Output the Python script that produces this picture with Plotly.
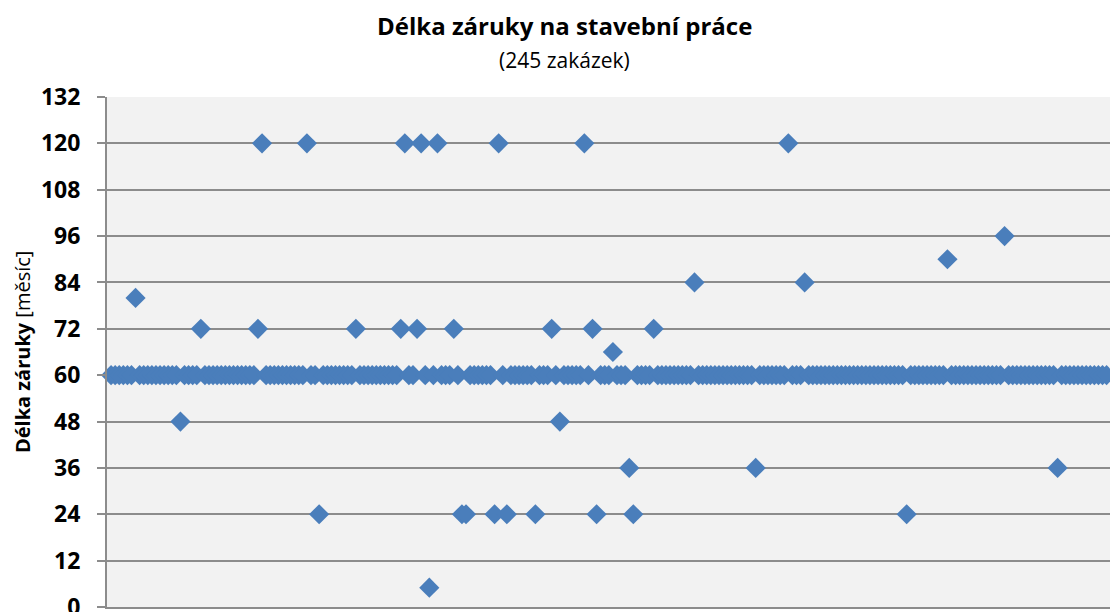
import plotly.graph_objects as go

# warranty length in months for each of the 245 contracts (in order)
zakazky = list(range(1, 246))
zaruka_mesice = [
    60, 60, 60, 60, 60, 60, 80, 60, 60, 60,
    60, 60, 60, 60, 60, 60, 60, 48, 60, 60,
    60, 60, 72, 60, 60, 60, 60, 60, 60, 60,
    60, 60, 60, 60, 60, 60, 72, 120, 60, 60,
    60, 60, 60, 60, 60, 60, 60, 60, 120, 60,
    60, 24, 60, 60, 60, 60, 60, 60, 60, 60,
    72, 60, 60, 60, 60, 60, 60, 60, 60, 60,
    60, 72, 120, 60, 60, 72, 120, 60, 5, 60,
    120, 60, 60, 60, 72, 60, 24, 24, 60, 60,
    60, 60, 60, 60, 24, 120, 60, 24, 60, 60,
    60, 60, 60, 60, 24, 60, 60, 60, 72, 60,
    48, 60, 60, 60, 60, 60, 120, 60, 72, 24,
    60, 60, 60, 66, 60, 60, 60, 36, 24, 60,
    60, 60, 60, 72, 60, 60, 60, 60, 60, 60,
    60, 60, 60, 84, 60, 60, 60, 60, 60, 60,
    60, 60, 60, 60, 60, 60, 60, 60, 36, 60,
    60, 60, 60, 60, 60, 60, 120, 60, 60, 60,
    84, 60, 60, 60, 60, 60, 60, 60, 60, 60,
    60, 60, 60, 60, 60, 60, 60, 60, 60, 60,
    60, 60, 60, 60, 60, 24, 60, 60, 60, 60,
    60, 60, 60, 60, 60, 90, 60, 60, 60, 60,
    60, 60, 60, 60, 60, 60, 60, 60, 60, 96,
    60, 60, 60, 60, 60, 60, 60, 60, 60, 60,
    60, 60, 36, 60, 60, 60, 60, 60, 60, 60,
    60, 60, 60, 60, 60,
]
y_ticks = [0, 12, 24, 36, 48, 60, 72, 84, 96, 108, 120, 132]

FONT = "Open Sans"
GRID = "#8c8c8c"

fig = go.Figure()
fig.add_trace(go.Scatter(
    x=zakazky,
    y=zaruka_mesice,
    mode="markers",
    marker=dict(symbol="diamond", size=15.5, color="#4a7ebb",
                line=dict(width=0)),
    cliponaxis=False,
    showlegend=False,
))

fig.update_xaxes(
    range=[0, 247.8],
    showgrid=False,
    zeroline=False,
    showticklabels=False,
    showline=True,
    linecolor=GRID,
    linewidth=2,
    automargin=False,
)
fig.update_yaxes(
    range=[0, 132],
    tickvals=y_ticks,
    showgrid=True,
    gridcolor=GRID,
    gridwidth=2,
    zeroline=False,
    showline=True,
    linecolor=GRID,
    linewidth=2,
    ticks="outside",
    ticklen=8,
    tickwidth=2,
    tickcolor=GRID,
    ticklabelstandoff=12,
    ticklabeloverflow="allow",
    automargin=False,
    tickfont=dict(family=FONT, size=23, color="black", weight="bold"),
)

# y-axis title as a rotated annotation (bold part + plain unit)
fig.add_annotation(
    x=-0.084, y=0.5, xref="paper", yref="paper",
    text="<b>Délka záruky</b> [měsíc]",
    textangle=-90, showarrow=False,
    xanchor="center", yanchor="middle",
    font=dict(family=FONT, size=20, color="black"),
)

# two-line title placed as annotations above the plot area
fig.add_annotation(
    x=0.453, y=1.141, xref="paper", yref="paper",
    text="<b>Délka záruky na stavební práce</b>",
    showarrow=False, yanchor="middle",
    font=dict(family=FONT, size=24, color="black"),
)
fig.add_annotation(
    x=0.453, y=1.0725, xref="paper", yref="paper",
    text="(245 zakázek)",
    showarrow=False, yanchor="middle",
    font=dict(family=FONT, size=21, color="black"),
)

# page body has an 8px margin, so the figure is 8px smaller than the window
fig.update_layout(
    width=1110,
    height=604,
    margin=dict(l=99, r=0, t=89, b=5, autoexpand=False),
    plot_bgcolor="#f2f2f2",
    paper_bgcolor="white",
)

fig.write_html("out.html")
